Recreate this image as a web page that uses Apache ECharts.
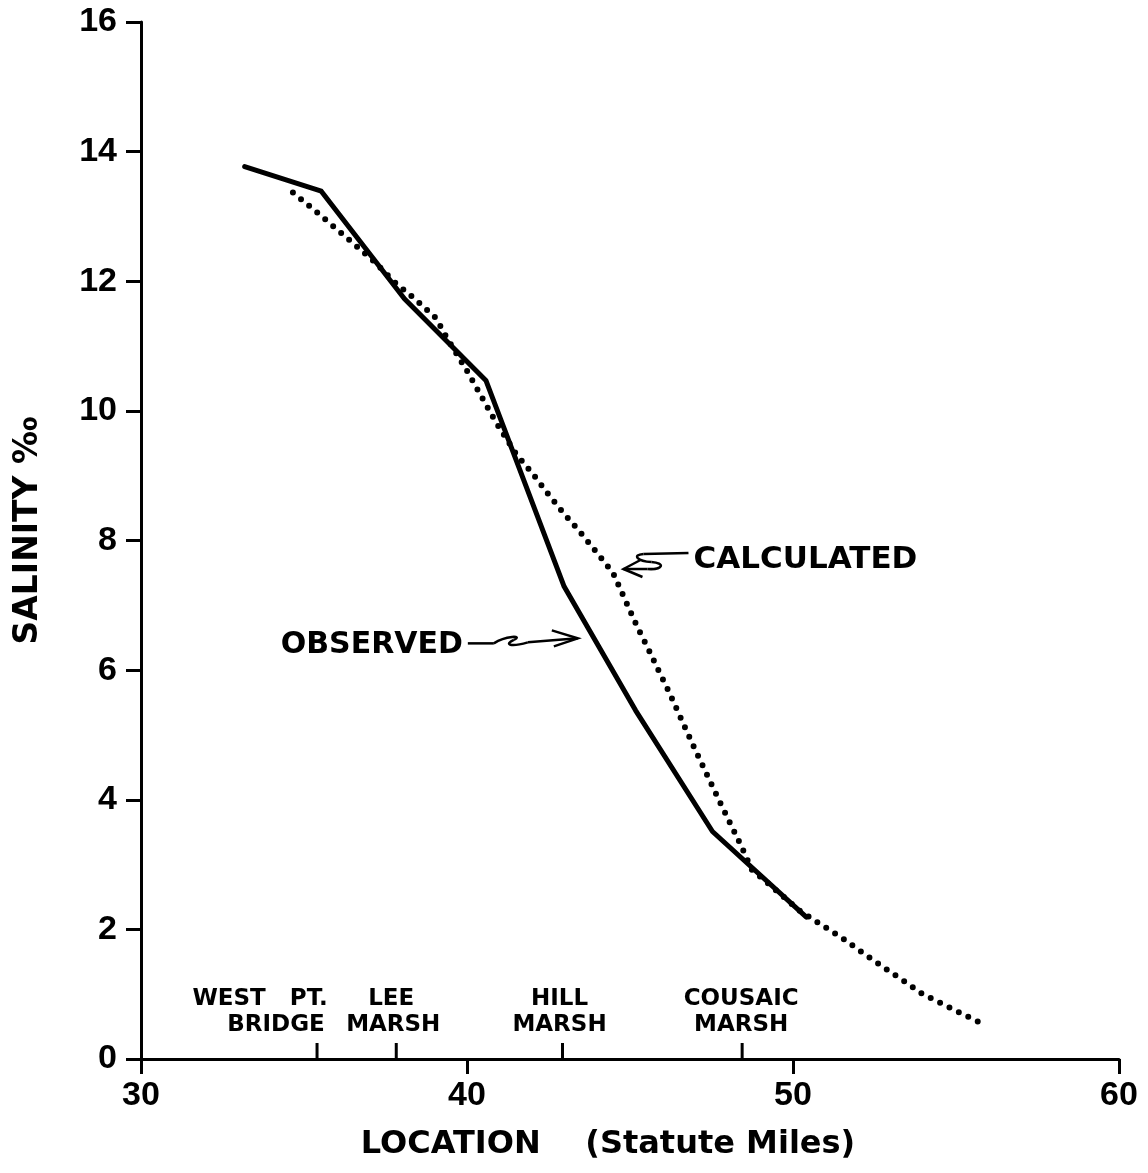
<!DOCTYPE html>
<html>
<head>
<meta charset="utf-8">
<script src="https://cdn.jsdelivr.net/npm/echarts@6/dist/echarts.min.js"></script>
<style>
html,body{margin:0;padding:0;background:#fff;}
#chart{width:1148px;height:1173px;}
</style>
</head>
<body>
<div id="chart"></div>
<script>
// ---- Data ----
const xTicks = [30, 40, 50, 60];
const yTicks = [0, 2, 4, 6, 8, 10, 12, 14, 16];

// Observed salinity (solid line)
const obsMiles = [33.18, 35.53, 38.08, 40.58, 42.98, 45.17, 47.53, 50.41];
const obsSalinity = [13.77, 13.39, 11.73, 10.47, 7.29, 5.38, 3.51, 2.19];

// Calculated salinity (dotted curve)
const calcMiles = [34.66, 35.43, 36.29, 37.14, 37.77, 38.44, 39.05, 39.38, 40.02, 40.40,
                   40.88, 41.50, 42.03, 42.47, 42.95, 43.42, 43.97, 44.48, 44.89, 45.22,
                   45.53, 45.85, 46.19, 46.99, 47.77, 48.39, 48.74, 49.05, 49.60, 50.20,
                   50.78, 51.50, 52.16, 52.76, 53.44, 53.95, 54.66, 55.17, 55.79];
const calcSalinity = [13.37, 13.05, 12.68, 12.31, 11.99, 11.71, 11.43, 11.13, 10.60, 10.26,
                      9.83, 9.34, 9.02, 8.73, 8.43, 8.16, 7.82, 7.50, 7.04, 6.67,
                      6.36, 6.02, 5.67, 4.78, 3.95, 3.31, 2.92, 2.79, 2.55, 2.29,
                      2.10, 1.87, 1.63, 1.42, 1.19, 1.01, 0.83, 0.70, 0.55];

// Named locations along the river
const locMiles = [35.40, 37.83, 42.93, 48.44];
const locLine1 = ['WEST   PT.', 'LEE', 'HILL', 'COUSAIC'];
const locLine2 = ['BRIDGE', 'MARSH', 'MARSH', 'MARSH'];

// Curve annotations (arrow tip positions in data units)
const noteText = ['CALCULATED', 'OBSERVED'];
const noteMiles = [44.80, 43.40];
const noteSalinity = [7.56, 6.49];

const xTitle = 'LOCATION    (Statute Miles)';
const yTitle = 'SALINITY ‰';

// ---- Styling ----
const FONT = '"DejaVu Sans", sans-serif';
const NUMFONT = '"Liberation Sans", Arial, sans-serif';
const locOffsets = [[-57, -41], [-5, -3], [-3, -3], [-1, -1]];

const chart = echarts.init(document.getElementById('chart'), null, {renderer: 'canvas'});

function renderLoc(params, api) {
  const i = params.dataIndex;
  const p = api.coord([api.value(0), 0]);
  const off = locOffsets[i];
  return {
    type: 'group', x: p[0], y: p[1],
    children: [
      {type: 'line', shape: {x1: 0, y1: 0, x2: 0, y2: -16}, style: {stroke: '#000', lineWidth: 3}},
      {type: 'text', x: off[0], y: -60, style: {text: locLine1[i], font: 'bold 23px ' + FONT, fill: '#000', textAlign: 'center', textVerticalAlign: 'middle'}},
      {type: 'text', x: off[1], y: -34, style: {text: locLine2[i], font: 'bold 23px ' + FONT, fill: '#000', textAlign: 'center', textVerticalAlign: 'middle'}}
    ]
  };
}

function renderNote(params, api) {
  const i = params.dataIndex;
  const p = api.coord([api.value(0), api.value(1)]);
  const st = {stroke: '#000', lineWidth: 2.5, fill: null};
  let children;
  if (i === 0) {
    children = [
      {type: 'line', shape: {x1: 65, y1: -16, x2: 20, y2: -15}, style: st},
      {type: 'bezierCurve', shape: {x1: 20, y1: -15, cpx1: 8, cpy1: -14, cpx2: 14, cpy2: -8, x2: 28, y2: -7}, style: st},
      {type: 'bezierCurve', shape: {x1: 28, y1: -7, cpx1: 42, cpy1: -6, cpx2: 40, cpy2: 1, x2: 24, y2: 0}, style: st},
      {type: 'line', shape: {x1: 24, y1: 0, x2: 0, y2: 0}, style: st},
      {type: 'polyline', shape: {points: [[17, -9], [0, 0], [19, 8]]}, style: st},
      {type: 'text', x: 70, y: -9, style: {text: noteText[i], font: 'bold 31px ' + FONT, fill: '#000', textAlign: 'left', textVerticalAlign: 'middle'}}
    ];
  } else {
    children = [
      {type: 'line', shape: {x1: -110, y1: 5, x2: -84, y2: 5}, style: st},
      {type: 'bezierCurve', shape: {x1: -84, y1: 5, cpx1: -72, cpy1: -3, cpx2: -54, cpy2: -3, x2: -64, y2: 1.5}, style: st},
      {type: 'bezierCurve', shape: {x1: -64, y1: 1.5, cpx1: -74, cpy1: 6, cpx2: -68, cpy2: 9, x2: -50, y2: 4}, style: st},
      {type: 'line', shape: {x1: -50, y1: 4, x2: 0, y2: 0}, style: st},
      {type: 'polyline', shape: {points: [[-26, -8], [0, 0], [-24, 8]]}, style: st},
      {type: 'text', x: -115, y: 7, style: {text: noteText[i], font: 'bold 30px ' + FONT, fill: '#000', textAlign: 'right', textVerticalAlign: 'middle'}}
    ];
  }
  return {type: 'group', x: p[0], y: p[1], children: children};
}

const option = {
  backgroundColor: '#ffffff',
  animation: false,
  grid: {left: 141, right: 29, top: 22, bottom: 114, containLabel: false},
  xAxis: {
    type: 'value', min: xTicks[0], max: xTicks[xTicks.length - 1], interval: 10,
    splitLine: {show: false},
    axisLine: {show: true, onZero: false, lineStyle: {color: '#000', width: 3}},
    axisTick: {show: true, length: 15, lineStyle: {color: '#000', width: 3}},
    axisLabel: {color: '#000', fontFamily: NUMFONT, fontWeight: 'bold', fontSize: 34, margin: 20},
    name: xTitle, nameLocation: 'middle', nameGap: 70,
    nameTextStyle: {color: '#000', fontFamily: FONT, fontWeight: 'bold', fontSize: 32, padding: [0, 44, 0, 0]}
  },
  yAxis: {
    type: 'value', min: yTicks[0], max: yTicks[yTicks.length - 1], interval: 2,
    splitLine: {show: false},
    axisLine: {show: true, onZero: false, lineStyle: {color: '#000', width: 3}},
    axisTick: {show: true, length: 15, lineStyle: {color: '#000', width: 3}},
    axisLabel: {color: '#000', fontFamily: NUMFONT, fontWeight: 'bold', fontSize: 34, margin: 24},
    name: yTitle, nameLocation: 'middle', nameGap: 96,
    nameTextStyle: {color: '#000', fontFamily: FONT, fontWeight: 'bold', fontSize: 33, padding: [0, 0, 0, 20]}
  },
  series: [
    {
      name: 'Calculated', type: 'line', symbol: 'none', showSymbol: false, smooth: false,
      data: calcMiles.map((x, i) => [x, calcSalinity[i]]),
      lineStyle: {color: '#000', width: 6, type: [0, 10.5], cap: 'round'},
      z: 2
    },
    {
      name: 'Observed', type: 'line', symbol: 'none', showSymbol: false, smooth: false,
      data: obsMiles.map((x, i) => [x, obsSalinity[i]]),
      lineStyle: {color: '#000', width: 5, cap: 'round', join: 'round'},
      z: 3
    },
    {
      name: 'Locations', type: 'custom', clip: false, renderItem: renderLoc,
      data: locMiles.map(x => [x]), z: 4
    },
    {
      name: 'Notes', type: 'custom', clip: false, renderItem: renderNote,
      data: noteMiles.map((x, i) => [x, noteSalinity[i]]), z: 4
    }
  ]
};
chart.setOption(option);
</script>
</body>
</html>
